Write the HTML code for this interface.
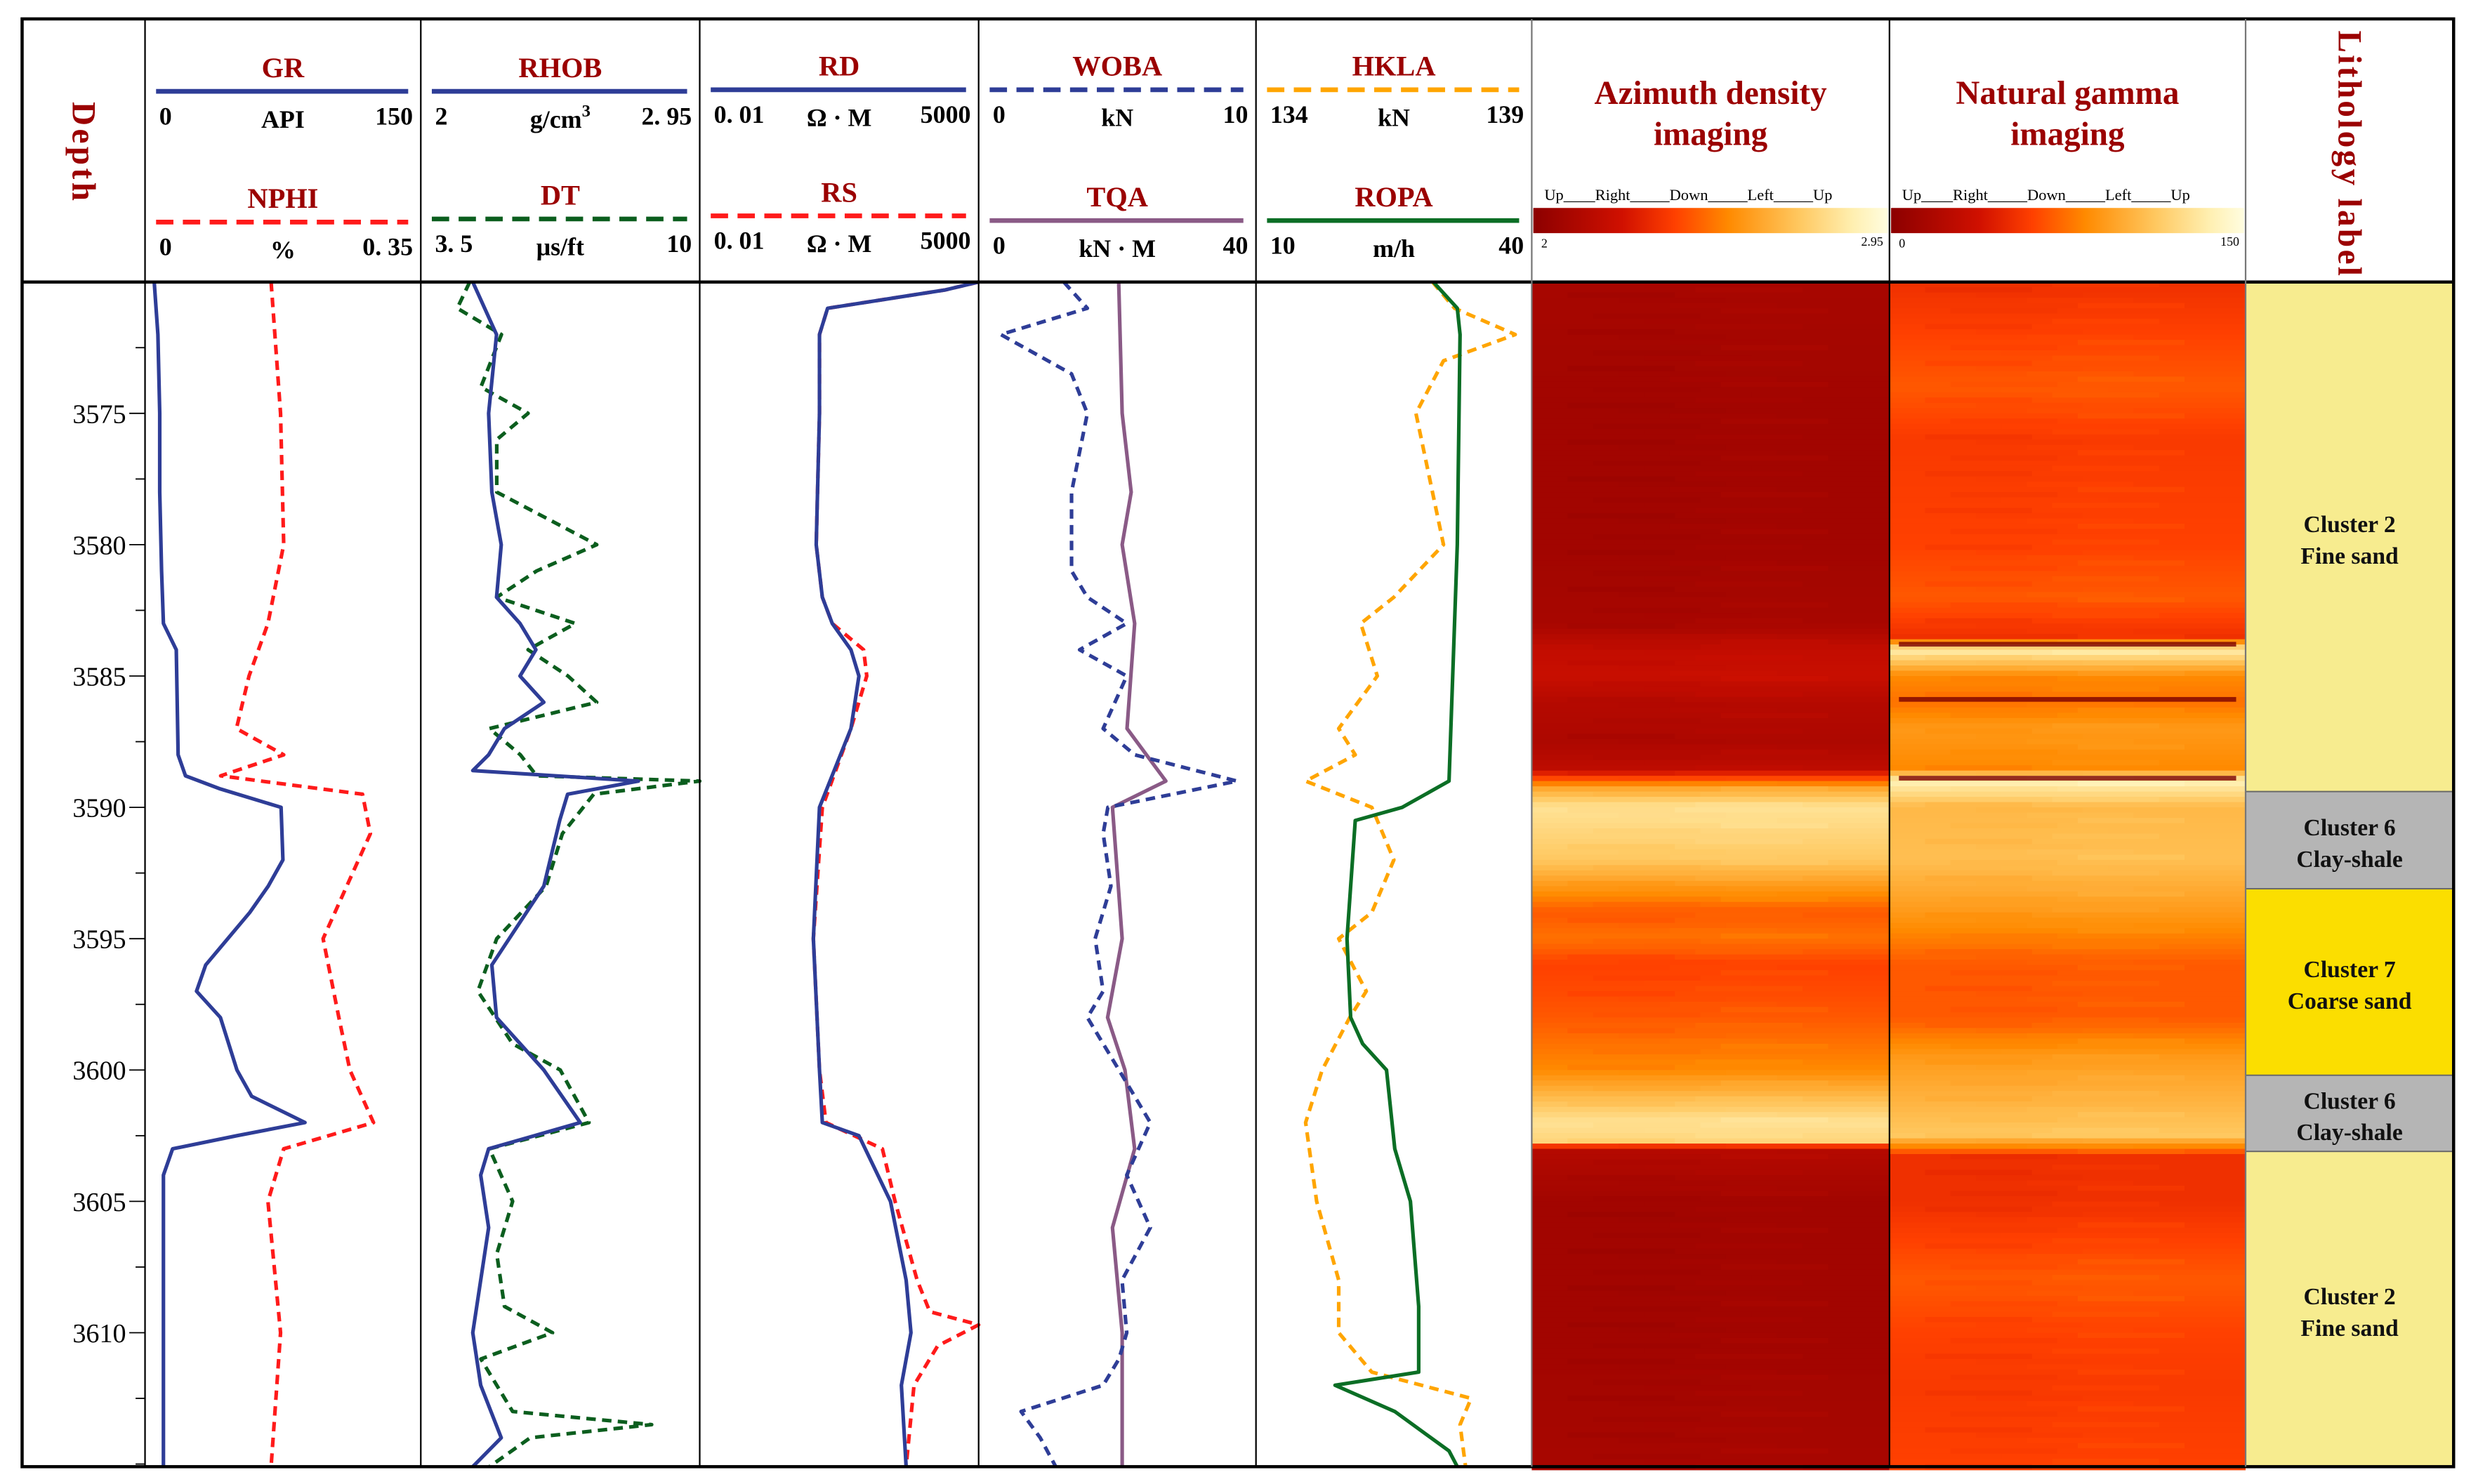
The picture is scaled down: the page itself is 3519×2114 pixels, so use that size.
<!DOCTYPE html>
<html><head><meta charset="utf-8">
<style>
html,body{margin:0;padding:0;background:#fff;}
svg{display:block;}
text{font-family:"Liberation Serif",serif;}
</style></head>
<body>
<svg id="chart" width="3519" height="2114" viewBox="0 0 1568 942" xmlns="http://www.w3.org/2000/svg">
<g id="imgs"></g>
<g id="curves"></g>
<g id="lith"></g>
<g id="frame"></g>
<g id="hdr"></g>
</svg>
<script>
// ---------- data ----------
const grDepth=[3570,3572,3575,3578,3581,3583,3584,3588,3588.8,3589.3,3590,3592,3593,3594,3595,3596,3597,3598,3600,3601,3602,3602.5,3603,3604,3615.1];
const grVals=[5,7,8,8,9,10,17,18,22,41,74,75,67,57,45,33,28,41,50,58,87,50,15,10,10];
const nphiDepth=[3570,3575,3580,3583,3585,3587,3588,3588.8,3589.5,3591,3593,3595,3598,3600,3602,3603,3605,3610,3615.1];
const nphiVals=[0.16,0.172,0.176,0.156,0.132,0.116,0.176,0.096,0.276,0.286,0.256,0.226,0.246,0.26,0.29,0.176,0.156,0.172,0.16];
const rhobDepth=[3570,3572,3575,3578,3580,3582,3583,3584,3585,3586,3587,3588,3588.6,3589,3589.5,3590.5,3593,3596,3598,3600,3602,3603,3604,3606,3610,3612,3614,3615.1];
const rhobVals=[2.177,2.258,2.231,2.242,2.274,2.258,2.338,2.392,2.338,2.419,2.285,2.231,2.177,2.741,2.5,2.473,2.419,2.242,2.258,2.419,2.543,2.231,2.204,2.231,2.177,2.204,2.274,2.177];
const dtDepth=[3570,3571,3572,3574,3575,3576,3578,3580,3581,3582,3583,3584,3585,3586,3587,3588,3588.8,3589,3589.5,3591,3593,3595,3597,3599,3600,3602,3603,3605,3607,3609,3610,3611,3613,3613.5,3614,3615.1];
const dtVals=[4.64,4.35,5.38,4.9,6.0,5.27,5.27,7.6,6.2,5.27,7.1,6.0,6.93,7.6,5.1,5.82,6.2,10.0,7.53,6.8,6.42,5.27,4.83,5.64,6.75,7.42,5.1,5.64,5.27,5.45,6.57,4.9,5.64,8.88,6.05,5.1];
const rdDepth=[3570,3570.3,3571,3572,3575,3580,3582,3583,3584,3585,3587,3590,3595,3600,3602,3602.5,3605,3608,3610,3612,3615.1];
const rdVals=[5000,1054,4.1,2.8,2.8,2.4,3.2,5.1,12.3,17.9,12.3,2.8,2.1,2.8,3.2,17.9,79,165,207,132,165];
const rsDepth=[3570,3570.3,3571,3572,3575,3580,3582,3583,3584,3585,3587,3590,3595,3600,3602,3603,3605,3608,3609.2,3609.7,3610.5,3612,3615.1];
const rsVals=[5000,1054,4.1,2.8,2.8,2.4,3.2,5.1,22.3,25.9,12.3,3.2,2.1,2.8,3.8,54,98,277,502,5000,728,239,165];
const wobDepth=[3570,3571,3572,3573.5,3575,3578,3581,3582,3583,3584,3585,3587,3588,3589,3590,3591,3593,3595,3597,3598,3600,3602,3604,3606,3608,3610,3611,3612,3613,3614,3615.1];
const wobVals=[3.07,3.92,0.8,3.35,3.92,3.35,3.35,3.92,5.34,3.64,5.34,4.49,5.63,9.32,4.66,4.49,4.77,4.2,4.49,3.92,5.06,6.19,5.34,6.19,5.17,5.34,5.06,4.49,1.53,2.22,2.78];
const tqaDepth=[3570,3575,3578,3580,3583,3587,3589,3590,3595,3598,3600,3603,3606,3610,3615.1];
const tqaVals=[20.2,20.7,22.0,20.7,22.5,21.4,27.0,19.3,20.7,18.6,21.1,22.5,19.3,20.7,20.7];
const hklDepth=[3570,3571,3572,3573,3575,3578,3580,3582,3583,3585,3587,3588,3589,3590,3592,3594,3595,3597,3598,3600,3602,3605,3608,3610,3611.5,3612.5,3613.5,3615.1];
const hklVals=[137.2,137.6,138.7,137.4,136.9,137.2,137.4,136.5,135.9,136.2,135.5,135.8,134.9,136.1,136.5,136.1,135.5,136.0,135.7,135.2,134.9,135.1,135.5,135.5,136.1,137.9,137.7,137.8];
const ropDepth=[3570,3571,3572,3580,3589,3590,3590.5,3595,3598,3599,3600,3603,3605,3609,3611.5,3612,3613,3614.5,3615.1];
const ropVals=[29.3,31.9,32.2,31.9,31.0,25.9,20.8,19.9,20.3,21.6,24.2,25.1,26.8,27.7,27.7,18.6,25.1,31.0,31.9];
// image logs (normalised colour-map position 0..1)
const denDepth=[3570,3575,3580,3583,3584,3585,3586,3587.5,3588.5,3589.3,3590,3591,3592,3593,3594,3595,3596,3597,3598,3599,3600,3601,3602,3602.7,3603,3605,3610,3615.1];
const denVals=[0.1,0.08,0.08,0.1,0.2,0.22,0.15,0.12,0.18,0.65,0.85,0.8,0.75,0.6,0.45,0.5,0.4,0.42,0.45,0.5,0.55,0.7,0.85,0.8,0.15,0.08,0.08,0.1];
const gamDepth=[3570,3572,3574,3576,3580,3582,3583.5,3584,3585,3586,3587,3588.5,3589,3590,3592,3594,3596,3598,3599.5,3600.5,3601.5,3602.5,3603.3,3605,3608,3610,3612,3615.1];
const gamVals=[0.35,0.4,0.45,0.38,0.4,0.45,0.35,0.9,0.55,0.5,0.6,0.55,0.92,0.7,0.72,0.6,0.45,0.45,0.6,0.65,0.7,0.75,0.35,0.35,0.45,0.4,0.38,0.4];
const gamDarkDepth=[3583.7,3585.8,3588.8];
const lithTop=[3570,3589.4,3593.1,3600.2,3603.1];
const lithBot=[3589.4,3593.1,3600.2,3603.1,3615.1];
const lithL1=["Cluster 2","Cluster 6","Cluster 7","Cluster 6","Cluster 2"];
const lithL2=["Fine sand","Clay-shale","Coarse sand","Clay-shale","Fine sand"];
const lithCol=["#f7ec8f","#b5b5b5","#fbde00","#b5b5b5","#f7ec8f"];
const depthTicks=[3575,3580,3585,3590,3595,3600,3605,3610];

// ---------- layout ----------
const NS="http://www.w3.org/2000/svg";
const TOP=179,BOT=931,D0=3570,D1=3615.1;
const yD=d=>TOP+(d-D0)/(D1-D0)*(BOT-TOP);
const cols=[14,92,267,444,621,797,972,1199,1425,1557];
function el(tag,attrs,parent){const e=document.createElementNS(NS,tag);for(const k in attrs)e.setAttribute(k,attrs[k]);parent.appendChild(e);return e;}
const G={imgs:document.getElementById('imgs'),curves:document.getElementById('curves'),lith:document.getElementById('lith'),frame:document.getElementById('frame'),hdr:document.getElementById('hdr')};
function lin(x0,x1,a,b){return v=>x0+(v-a)/(b-a)*(x1-x0);}
function logx(x0,x1,a,b){return v=>x0+(Math.log10(v)-Math.log10(a))/(Math.log10(b)-Math.log10(a))*(x1-x0);}
function curve(depths,vals,fx,color,dash,name){
  let d='';depths.forEach((dd,i)=>{d+=(i?'L':'M')+fx(vals[i]).toFixed(2)+','+yD(dd).toFixed(2);});
  const p=el('path',{d:d,fill:'none',stroke:color,'stroke-width':2.3,'stroke-linejoin':'round'},G.curves);
  if(dash)p.setAttribute('stroke-dasharray','6,4');
  
  
}
curve(grDepth,grVals,lin(92,267,0,150),'#2e3d97',false,'gr-curve');
curve(nphiDepth,nphiVals,lin(92,267,0,0.35),'#ff1a1a',true,'nphi-curve');
curve(dtDepth,dtVals,lin(267,444,3.5,10),'#0b5e1e',true,'dt-curve');
curve(rhobDepth,rhobVals,lin(267,444,2,2.95),'#2e3d97',false,'rhob-curve');
curve(rsDepth,rsVals,logx(444,621,0.01,5000),'#ff1a1a',true,'rs-curve');
curve(rdDepth,rdVals,logx(444,621,0.01,5000),'#2e3d97',false,'rd-curve');
curve(tqaDepth,tqaVals,lin(621,797,0,40),'#8a5a86',false,'tqa-curve');
curve(wobDepth,wobVals,lin(621,797,0,10),'#2e3d97',true,'woba-curve');
curve(hklDepth,hklVals,lin(797,972,134,139),'#ffa500',true,'hkla-curve');
curve(ropDepth,ropVals,lin(797,972,10,40),'#0b6e25',false,'ropa-curve');

// colour map
const cmapS=[0,0.25,0.4,0.55,0.75,0.9,1];
const cmapC=[[140,0,0],[208,16,0],[255,64,0],[255,138,0],[255,200,96],[255,239,176],[255,253,224]];
function cmap(t){t=Math.max(0,Math.min(1,t));for(let i=1;i<cmapS.length;i++){if(t<=cmapS[i]){const f=(t-cmapS[i-1])/(cmapS[i]-cmapS[i-1]);const a=cmapC[i-1],b=cmapC[i];return 'rgb('+a.map((v,k)=>Math.round(v+(b[k]-v)*f)).join(',')+')';}}return 'rgb(255,253,224)';}
function interp(ds,vs,d){for(let i=1;i<ds.length;i++){if(d<=ds[i]){const f=(d-ds[i-1])/(ds[i]-ds[i-1]);return vs[i-1]+(vs[i]-vs[i-1])*f;}}return vs[vs.length-1];}
function image(ds,vs,x0,x1,name,seed){
  const g=el('g',{},G.imgs);
  
  
  const step=0.2;let k=0;
  for(let d=D0;d<D1;d+=step){
    const v=interp(ds,vs,d+step/2);
    el('rect',{x:x0,y:yD(d),width:x1-x0,height:yD(d+step)-yD(d)+0.6,fill:cmap(v)},g);
    const w=(x1-x0);const j=((k*37+seed)%7)/7;
    el('rect',{x:x0+w*(0.1+0.5*j),y:yD(d),width:w*0.3,height:yD(d+step)-yD(d)+0.3,fill:cmap(v+0.06*(j-0.4)),opacity:0.7},g);
    k++;
  }
}
image(denDepth,denVals,972,1199,'azimuth-density-image',3);
image(gamDepth,gamVals,1199,1425,'natural-gamma-image',5);
gamDarkDepth.forEach(d=>{
  const r=el('rect',{x:1205,y:yD(d),width:214,height:3,fill:'#7a0000',opacity:0.8},G.imgs);
  
  
});

// lithology
lithTop.forEach((t,i)=>{
  const r=el('rect',{x:1425,y:yD(t),width:132,height:yD(lithBot[i])-yD(t),fill:lithCol[i],stroke:'#666','stroke-width':0.8},G.lith);
  
  
  const cy=(yD(t)+yD(lithBot[i]))/2;
  const t1=el('text',{x:1491,y:cy-3,'text-anchor':'middle','font-size':15,'font-weight':'bold',fill:'#111'},G.lith);t1.textContent=lithL1[i];
  
  
  const t2=el('text',{x:1491,y:cy+17,'text-anchor':'middle','font-size':15,'font-weight':'bold',fill:'#111'},G.lith);t2.textContent=lithL2[i];
  
  
});

// frame
el('rect',{x:14,y:12,width:1543,height:919,fill:'none',stroke:'#000','stroke-width':2},G.frame);
el('line',{x1:14,y1:179,x2:1557,y2:179,stroke:'#000','stroke-width':2},G.frame);
cols.slice(1,-1).forEach(x=>el('line',{x1:x,y1:12,x2:x,y2:931,stroke:(x==972||x==1425)?'#777':'#000','stroke-width':1},G.frame));
for(let d=3572.5;d<D1;d+=2.5){const major=depthTicks.includes(d);el('line',{x1:major?82:86,y1:yD(d),x2:92,y2:yD(d),stroke:'#000','stroke-width':0.8},G.frame);}
depthTicks.forEach(d=>{const t=el('text',{x:80,y:yD(d)+6,'text-anchor':'end','font-size':17,fill:'#000'},G.frame);t.textContent=d;
  
  });

// headers
const H=G.hdr;
function txt(x,y,s,size,col,anchor,extra){const t=el('text',Object.assign({x:x,y:y,'font-size':size,fill:col,'font-weight':'bold','text-anchor':anchor||'middle'},extra||{}),H);t.textContent=s;return t;}
const dt=txt(0,0,'Depth',21,'#9b0000','middle',{transform:'translate(46,97) rotate(90)','letter-spacing':'2'});
const lt=txt(0,0,'Lithology label',21,'#9b0000','middle',{transform:'translate(1484,98) rotate(90)','letter-spacing':'1.5'});
function hblock(x0,x1,yT,name,color,dash,l,u,r,id){
  const g=el('g',{},H);
  const c=(x0+x1)/2;
  const t=el('text',{x:c,y:yT,'font-size':18,'font-weight':'bold',fill:'#9b0000','text-anchor':'middle'},g);t.textContent=name;
  const ln=el('line',{x1:x0+7,y1:yT+9,x2:x1-8,y2:yT+9,stroke:color,'stroke-width':3},g);if(dash)ln.setAttribute('stroke-dasharray','11,6');
  const a=el('text',{x:x0+9,y:yT+30,'font-size':16,'font-weight':'bold',fill:'#000','text-anchor':'start'},g);a.textContent=l;
  const b=el('text',{x:c,y:yT+32,'font-size':16,'font-weight':'bold',fill:'#000','text-anchor':'middle'},g);b.innerHTML=u;
  const e=el('text',{x:x1-5,y:yT+30,'font-size':16,'font-weight':'bold',fill:'#000','text-anchor':'end'},g);e.textContent=r;
}
hblock(92,267,49,'GR','#2e3d97',false,'0','API','150','gr-header');
hblock(92,267,132,'NPHI','#ff1a1a',true,'0','%','0. 35','nphi-header');
hblock(267,444,49,'RHOB','#2e3d97',false,'2','g/cm<tspan dy="-7" font-size="11">3</tspan>','2. 95','rhob-header');
hblock(267,444,130,'DT','#0b5e1e',true,'3. 5','μs/ft','10','dt-header');
hblock(444,621,48,'RD','#2e3d97',false,'0. 01','Ω · M','5000','rd-header');
hblock(444,621,128,'RS','#ff1a1a',true,'0. 01','Ω · M','5000','rs-header');
hblock(621,797,48,'WOBA','#2e3d97',true,'0','kN','10','woba-header');
hblock(621,797,131,'TQA','#8a5a86',false,'0','kN · M','40','tqa-header');
hblock(797,972,48,'HKLA','#ffa500',true,'134','kN','139','hkla-header');
hblock(797,972,131,'ROPA','#0b6e25',false,'10','m/h','40','ropa-header');
const defs=el('defs',{},H);
const gr=el('linearGradient',{id:'cb',x1:0,x2:1,y1:0,y2:0},defs);
cmapS.forEach((s,i)=>el('stop',{offset:s,'stop-color':'rgb('+cmapC[i].join(',')+')'},gr));
[[972,1199,'Azimuth density','2','2.95','density-header'],[1199,1425,'Natural gamma','0','150','gamma-header']].forEach(a=>{
  const [x0,x1,t,lo,hi,id]=a;const c=(x0+x1)/2;
  const g=el('g',{},H);
  const t1=el('text',{x:c,y:66,'font-size':21,'font-weight':'bold',fill:'#9b0000','text-anchor':'middle'},g);t1.textContent=t;
  const t2=el('text',{x:c,y:92,'font-size':21,'font-weight':'bold',fill:'#9b0000','text-anchor':'middle'},g);t2.textContent='imaging';
  const t3=el('text',{x:x0+8,y:127,'font-size':10,fill:'#000'},g);t3.textContent='Up____Right_____Down_____Left_____Up';
  el('rect',{x:x0+1,y:132,width:x1-x0-2,height:16,fill:'url(#cb)'},g);
  const t4=el('text',{x:x0+6,y:157,'font-size':8,fill:'#000'},g);t4.textContent=lo;
  const t5=el('text',{x:x1-4,y:156,'font-size':8,fill:'#000','text-anchor':'end'},g);t5.textContent=hi;
});
</script>
</body></html>
